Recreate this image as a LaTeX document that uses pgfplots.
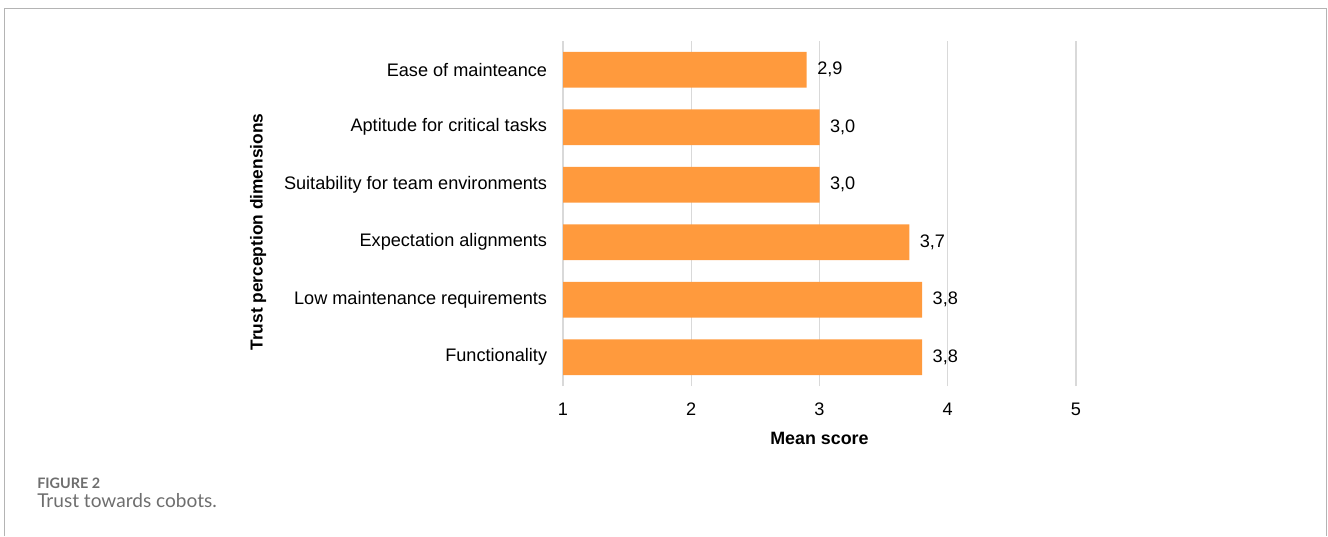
\documentclass[border=0pt]{standalone}
\usepackage{fontspec}
\setmainfont{Liberation Sans}
\newfontfamily\capfont{Lato}
\usepackage{pgfplots}
\pgfplotsset{compat=1.18}

\definecolor{barorange}{HTML}{FF9A3D}
\definecolor{gridgray}{HTML}{D9D9D9}
\definecolor{framegray}{HTML}{B4B4B4}
\definecolor{capgray}{HTML}{6E6E6E}
\newcommand\lab{\fontsize{13.6}{15}\selectfont}

\begin{document}
\begin{tikzpicture}
  % page size: 1328 x 536 px at 0.75pt per px
  \useasboundingbox (0,0) rectangle (996pt,402pt);
  \draw[framegray, line width=1.1pt]
    (3.4pt,0) -- (3.4pt,395.6pt) -- (994.9pt,395.6pt) -- (994.9pt,0);

  \begin{axis}[
      at={(422.25pt,112.5pt)}, anchor=south west,
      width=384.75pt, height=258.75pt, scale only axis,
      xbar, bar width=0.626,
      xmin=1, xmax=5,
      ymin=-0.5, ymax=5.5,
      xtick={1,2,3,4,5},
      ytick=data,
      yticklabels={Functionality, Low maintenance requirements,
                   Expectation alignments, Suitability for team environments,
                   Aptitude for critical tasks, Ease of mainteance},
      major tick length=0pt,
      axis line style={draw=none},
      xmajorgrids, major grid style={gridgray, line width=1.1pt},
      /pgf/number format/assume math mode=true,
      ticklabel style={font=\lab},
      xticklabel style={yshift=-9pt},
      yticklabel style={xshift=-8.4pt},
      xlabel={Mean score},
      xlabel style={font=\fontsize{13.4}{15}\selectfont\bfseries,
                    at={(axis description cs:0.5,-0.1507)}, anchor=center},
      ylabel={Trust perception dimensions},
      ylabel style={font=\fontsize{13}{15}\selectfont\bfseries,
                    at={(axis description cs:-0.5945,0.446)}, anchor=center},
      nodes near coords,
      nodes near coords style={font=\lab, anchor=west, xshift=4.4pt,
        /pgf/number format/.cd, fixed, fixed zerofill, precision=1, use comma},
    ]
    \addplot[fill=barorange, draw=none] coordinates {
      (3.8,0)
      (3.8,1)
      (3.7,2)
      (3.0,3)
      (3.0,4)
      (2.9,5)
    };
  \end{axis}

  \node[anchor=base west, inner sep=0, text=capgray,
        font=\capfont\bfseries\fontsize{10.8}{12}\selectfont] at (27.75pt,36pt) {FIGURE 2};
  \node[anchor=base west, inner sep=0, text=capgray,
        font=\capfont\fontsize{14.3}{16}\selectfont] at (27.75pt,21.4pt) {Trust towards cobots.};
\end{tikzpicture}
\end{document}
